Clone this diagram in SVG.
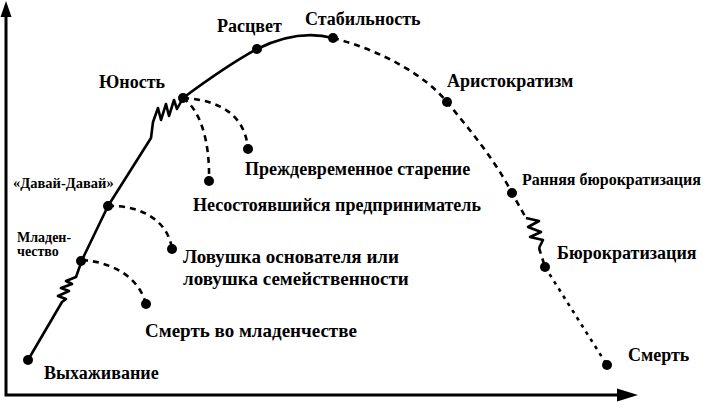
<svg xmlns="http://www.w3.org/2000/svg" width="703" height="407" viewBox="0 0 703 407">
<style>
.t{font-family:"Liberation Serif","Times New Roman",serif;font-weight:bold;font-size:18px;fill:#000}
.l{font-size:19px}
.s{font-size:16px}
.xs{font-size:14.5px}
.xxs{font-size:14px}
.dot{fill:#000}
.solid{fill:none;stroke:#000;stroke-width:2.6;stroke-linejoin:round}
.dash{fill:none;stroke:#000;stroke-width:2.6;stroke-dasharray:6 5}
.dotted{fill:none;stroke:#000;stroke-width:2.6;stroke-dasharray:3.5 5}
.axis{fill:none;stroke:#000;stroke-width:3}
</style>
<rect width="703" height="407" fill="#fff"/>
<g id="axes">
<path class="axis" d="M6,395 L6,14 M4.5,395 L620,395"/>
<polygon points="6,1 0.5,17 11.5,17"/>
<polygon points="638,395 617,388.5 617,401.5"/>
</g>
<g id="connectors">
<path class="solid" d="M28,360 L62,302 L66,299 L58,296 L69,291 L61,288 L72,284 L66,281 L76,277 L82,260 L108,206 L151,138 L153,122 L158,108 L161,120 L166,104 L169,116 L174,100 L177,109 L183,98"/>
<path class="solid" d="M183,98 C210,78 235,61 257,49 C285,35 310,32 333,38"/>
<path class="dash" d="M333,38 C380,50 425,75 447,102 C470,130 495,160 512,193 L526,218"/>
<path class="solid" d="M526,218 L539,221 L528,227 L541,232 L530,237 L543,240 L539,248"/>
<path class="dash" d="M539,248 L545,267"/>
<path class="dotted" d="M545,267 L607,365"/>
<path class="dash" d="M183,98 C220,100 245,115 248,149"/>
<path class="dash" d="M183,98 C200,110 210,140 209,181"/>
<path class="dash" d="M108,206 C140,205 168,220 172,249"/>
<path class="dash" d="M82,260 C110,262 138,275 146,304"/>
</g>
<g id="vykhazhivanie"><circle class="dot" cx="28" cy="360" r="5"/><text class="t" x="44" y="379">Выхаживание</text></g>
<g id="mladenchestvo"><circle class="dot" cx="81" cy="261" r="5"/><text class="t xxs" x="17" y="242">Младен-</text><text class="t xxs" x="17" y="256">чество</text></g>
<g id="davai"><circle class="dot" cx="108" cy="206" r="5"/><text class="t xs" x="13" y="188">«Давай-Давай»</text></g>
<g id="yunost"><circle class="dot" cx="183" cy="98" r="5"/><text class="t" x="99" y="88">Юность</text></g>
<g id="rastsvet"><circle class="dot" cx="257" cy="49" r="5"/><text class="t" x="217" y="32">Расцвет</text></g>
<g id="stabilnost"><circle class="dot" cx="333" cy="38" r="5"/><text class="t" x="305" y="25">Стабильность</text></g>
<g id="aristokratizm"><circle class="dot" cx="447" cy="102" r="5"/><text class="t" x="447" y="87">Аристократизм</text></g>
<g id="rannyaya"><circle class="dot" cx="512" cy="193" r="5"/><text class="t s" x="522" y="185">Ранняя бюрократизация</text></g>
<g id="byurokratizatsiya"><circle class="dot" cx="545" cy="267" r="5"/><text class="t" x="557" y="259">Бюрократизация</text></g>
<g id="smert"><circle class="dot" cx="607" cy="365" r="5"/><text class="t" x="628" y="361">Смерть</text></g>
<g id="prezhdevremennoe"><circle class="dot" cx="248" cy="149" r="5"/><text class="t" x="245" y="175">Преждевременное старение</text></g>
<g id="nesostoyavshiysya"><circle class="dot" cx="209" cy="181" r="5"/><text class="t" x="193" y="211">Несостоявшийся предприниматель</text></g>
<g id="lovushka"><circle class="dot" cx="172" cy="249" r="5"/><text class="t l" x="183" y="263">Ловушка основателя или</text><text class="t l" x="183" y="285">ловушка семейственности</text></g>
<g id="smert-mlad"><circle class="dot" cx="146" cy="304" r="5"/><text class="t l" x="145" y="337">Смерть во младенчестве</text></g>
</svg>
